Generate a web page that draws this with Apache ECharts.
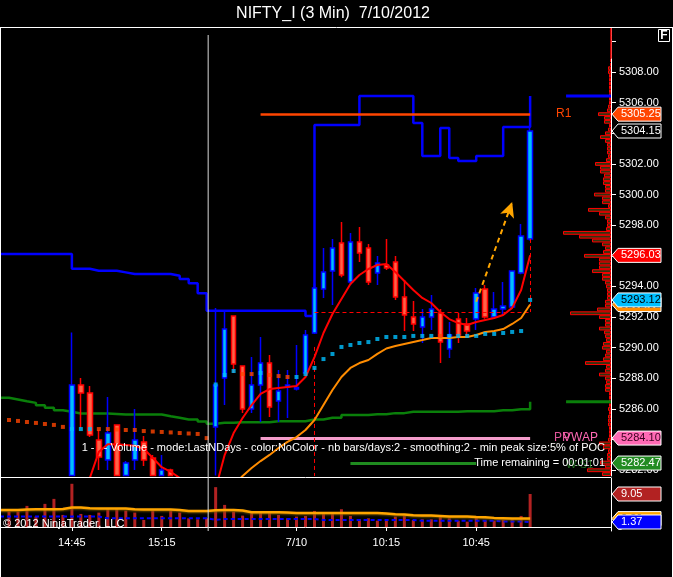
<!DOCTYPE html>
<html><head><meta charset="utf-8">
<script src="https://cdn.jsdelivr.net/npm/echarts@6/dist/echarts.min.js"></script>
<style>html,body{margin:0;padding:0;background:#000;overflow:hidden}#c{width:673px;height:577px}</style>
</head><body><div id="c"></div>
<script>
// ---------- categories (3-min bars) ----------
const times = ['14:21','14:24','14:27','14:30','14:33','14:36','14:39','14:42','14:45','14:48','14:51','14:54','14:57','15:00','15:03','15:06','15:09','15:12','15:15','15:18','15:21','15:24','15:27','15:30',
 '9:18','9:21','9:24','9:27','9:30','9:33','9:36','9:39','9:42','9:45','9:48','9:51','9:54','9:57','10:00','10:03','10:06','10:09','10:12','10:15','10:18','10:21','10:24','10:27','10:30','10:33','10:36','10:39','10:42','10:45','10:48','10:51','10:54','10:57','11:00','11:03',
 '11:06','11:09','11:12','11:15','11:18','11:21','11:24','11:27','11:30'];
const tickTimes = ['14:45','15:15','9:45','10:15','10:45'];
const tickLabels = ['14:45','15:15','7/10','10:15','10:45'];
const priceTicks = [5282,5284,5286,5288,5290,5292,5294,5296,5298,5300,5302,5304,5306,5308,5310];
const priceLabels = [5282,5284,5286,5288,5290,5292,5294,5296,5298,5300,5302,5304,5306,5308];

// ---------- OHLC (values below the visible range are held at the panel floor, 5281.65) ----------
const _ = null;
const open = [_,_,_,_,_,_,_,_,5281.65,5287.56,5287.04,5283.98,5282.67,5284.95,5281.65,5282.67,5283.85,5282.8,5281.65,5282.02,_,_,_,_,
 5284.82,5288.02,5292.07,5288.81,5286.0,5287.57,5289.0,5286.52,5287.43,5287.3,5288.35,5290.96,5293.83,5295.01,5296.84,5294.29,5296.9,5296.51,5294.88,5295.4,5295.6,5293.31,5292.0,5291.35,5292.0,5292.27,5289.92,5291.87,5291.55,5291.87,5293.83,5292.0,5292.53,5292.66,5294.88,5297.1];
const close = [_,_,_,_,_,_,_,_,5287.56,5287.04,5284.3,5282.87,5284.43,5281.65,5282.47,5283.97,5282.67,5281.65,5282.02,5281.65,_,_,_,_,
 5287.57,5291.22,5288.94,5286.0,5287.57,5289.0,5286.13,5287.17,5287.57,5287.4,5290.83,5293.9,5294.94,5296.51,5294.75,5296.9,5296.19,5294.29,5295.53,5295.2,5293.31,5292.14,5291.55,5292.0,5292.53,5290.37,5290.83,5290.83,5291.09,5293.57,5292.0,5292.53,5292.72,5295.01,5297.29,5304.15];
const low = [_,_,_,_,_,_,_,_,5281.65,5284.76,5284.17,5282.02,5282.02,5281.65,5281.65,5282.02,5282.28,5281.65,5281.65,5281.65,_,_,_,_,
 5281.65,5286.26,5288.35,5285.74,5285.74,5285.15,5285.48,5285.15,5285.41,5287.2,5288.3,5290.9,5293.25,5292.79,5294.6,5294.1,5295.6,5294.1,5294.1,5295.07,5293.12,5291.09,5291.09,5290.31,5291.16,5289.0,5289.33,5290.31,5290.64,5291.16,5291.9,5291.9,5292.14,5292.6,5294.8,5297.0];
const high = [_,_,_,_,_,_,_,_,5291.0,5288.02,5287.5,5284.63,5286.78,5284.95,5282.6,5286.0,5284.24,5283.0,5283.0,5282.1,_,_,_,_,
 5292.6,5292.46,5292.1,5288.85,5289.39,5290.7,5289.52,5288.55,5288.55,5290.18,5291.16,5294.2,5296.51,5297.1,5298.21,5297.49,5297.88,5296.77,5295.99,5297.1,5295.99,5294.42,5293.05,5292.53,5293.44,5292.53,5291.68,5292.27,5291.94,5293.9,5294.1,5293.64,5294.29,5295.01,5298.08,5304.4];

// ---------- indicators ----------
const fastAvg = [_,_,_,_,_,_,_,_,5280.0,5280.5,5281.5,5283.2,5283.7,5283.7,5283.65,5283.6,5283.4,5282.8,5282.2,5281.9,5281.5,5281.0,5280.7,5280.5,
 5280.8,5282.99,5284.43,5285.41,5286.26,5286.98,5287.3,5287.37,5287.43,5287.5,5288.09,5289.39,5290.96,5292.2,5293.18,5294.16,5294.75,5295.14,5295.4,5295.47,5294.94,5294.36,5293.77,5293.25,5292.92,5292.33,5291.87,5291.61,5291.48,5291.68,5291.81,5291.94,5292.14,5292.6,5293.77,5296.03];
const slowAvg = [_,_,_,_,_,_,_,_,_,_,_,_,_,_,_,_,_,_,_,_,_,_,_,_,
 5280.0,5280.5,5281.0,5281.63,5282.15,5282.6,5283.0,5283.45,5283.85,5284.17,5284.63,5285.28,5286.26,5287.24,5288.09,5288.68,5289.0,5289.2,5289.6,5289.95,5290.11,5290.24,5290.37,5290.5,5290.64,5290.64,5290.64,5290.7,5290.7,5290.83,5291.03,5291.09,5291.22,5291.55,5291.94,5292.82];
const vwapDots = [_,5285.28,5285.22,5285.15,5285.09,5285.02,5284.96,5284.83,5284.69,5284.69,5284.69,5284.69,5284.69,5284.66,5284.63,5284.63,5284.56,5284.53,5284.5,5284.47,5284.43,5284.4,5284.37,5284.10,
 5287.6,5288.22,5288.48,5288.28,5288.28,5288.35,5288.22,5288.15,5288.09,5288.09,5288.28,5288.68,5289.26,5289.59,5290.05,5290.18,5290.31,5290.37,5290.57,5290.7,5290.7,5290.7,5290.77,5290.77,5290.77,5290.77,5290.77,5290.77,5290.77,5290.77,5290.9,5290.9,5290.96,5291.03,5291.09,5293.12];
const vwapSide = [0,-1,-1,-1,-1,-1,-1,-1,1,1,1,-1,-1,-1,-1,-1,-1,-1,-1,-1,-1,-1,-1,-1,
 1,1,1,-1,-1,1,-1,-1,-1,1,1,1,1,1,1,1,1,1,1,1,1,1,1,1,1,-1,1,1,1,1,1,1,1,1,1,1];
const upperStep = [5296.12,5296.12,5296.12,5296.12,5296.12,5296.12,5296.12,5296.12,5295.16,5295.16,5295.03,5295.03,5295.03,5294.92,5294.81,5294.81,5294.81,5294.81,5294.81,5294.70,5294.49,5294.21,5293.55,5292.42,
 5292.42,5292.42,5292.42,5292.42,5292.42,5292.42,5292.42,5292.42,5292.42,5292.42,5292.07,5304.54,5304.54,5304.54,5304.54,5304.54,5306.44,5306.44,5306.44,5306.44,5306.44,5306.44,5304.67,5302.52,5302.52,5304.35,5302.39,5302.19,5302.19,5302.52,5302.52,5302.52,5304.41,5304.41,5304.41,5306.44];
const lowerStep = [5286.73,5286.62,5286.5,5286.4,5286.25,5286.08,5285.92,5285.82,5285.7,5285.7,5285.7,5285.7,5285.68,5285.64,5285.64,5285.64,5285.64,5285.64,5285.53,5285.43,5285.32,5285.32,5285.18,5285.04,
 5285.1,5285.1,5285.14,5285.14,5285.14,5285.14,5285.2,5285.2,5285.2,5285.2,5285.32,5285.32,5285.43,5285.43,5285.6,5285.6,5285.6,5285.66,5285.66,5285.73,5285.73,5285.82,5285.82,5285.82,5285.82,5285.82,5285.82,5285.86,5285.86,5285.86,5285.86,5285.92,5285.92,5285.99,5285.99,5286.47];

// ---------- pivot levels ----------
const levelNames = ['R1','PP','W-S1'];
const levelValues = [5305.25, 5284.10, 5282.47];
const levelFrom = ['9:33','9:33','10:03'];
const levelTo = ['11:03','11:03','10:45'];

// ---------- volume panel ----------
const volume = [_,4.22,4.22,5.79,2.85,6.34,7.71,3.31,11.85,3.58,3.31,3.95,5.14,5.14,4.5,3.95,1.93,4.5,3.03,4.5,3.95,2.39,2.11,2.39,
 10.93,6.06,4.22,3.12,3.95,3.95,3.95,3.31,2.39,2.85,3.03,4.41,3.76,3.95,4.87,3.03,2.11,2.39,1.74,2.11,2.85,3.03,1.93,2.11,2.11,2.85,2.39,1.74,1.47,2.85,1.74,1.74,1.93,2.11,3.03,9.05];
const volumeAvg = [4.68,4.68,4.68,4.78,4.87,4.87,4.87,4.95,5.33,5.33,5.15,5.05,5.05,5.05,5.05,4.87,4.78,4.78,4.78,4.78,4.68,4.41,4.41,4.41,
 4.6,4.68,4.68,4.5,4.04,4.04,4.04,4.04,3.95,3.86,3.86,3.86,3.86,3.86,3.86,3.86,3.86,3.86,3.86,3.7,3.49,3.4,3.2,3.12,3.12,3.0,2.85,2.85,2.85,2.75,2.66,2.5,2.4,2.3,2.3,2.3];
const volumeSlow = [2.85,2.85,2.85,2.85,2.85,2.85,2.85,2.85,2.85,2.85,2.85,2.85,2.4,2.4,2.4,2.4,2.4,2.4,2.4,2.4,2.4,2.4,2.4,2.4,
 1.95,2.2,2.2,2.2,2.2,2.2,2.2,2.2,2.2,2.2,2.2,2.2,1.95,1.95,1.95,1.95,1.95,1.95,1.95,1.95,1.95,1.95,1.95,1.7,1.7,1.7,1.7,1.7,1.7,1.7,1.7,1.7,1.5,1.5,1.5,1.37];

// ---------- volume profile (price levels every 0.25 from 5281.75) ----------
const profileLow = 5281.75, profileStep = 0.25;
const profileVol = [9,24,6,11,4,4,3,8,12,3,2,2,2,3,3,3,2,3,2,2,2,2,6,6,5,6,12,6,5,26,8,6,5,9,8,5,6,7,12,6,6,12,41,14,6,6,4,4,4,5,6,9,9,19,12,12,12,27,8,6,9,19,32,48,5,4,4,6,12,23,3,9,9,17,6,6,8,8,7,11,11,16,5,3,4,4,4,6,11,6,3,2,7,7,13,4,3,2,2,2,2,2,2,2,2,3,3,1,1,0,0,0,0,0,0,0,0];

// ---------- build ----------
const FONT = '"Liberation Sans", Arial, sans-serif';
const N = times.length;
const dash = a => a.map(v => v == null ? '-' : v);
const pad = a => dash(a.concat(Array(N - a.length).fill(null)));
const ohlc = times.map((t, i) => open[i] == null ? '-' : [open[i], close[i], low[i], high[i]]);
const profileLevels = profileVol.map((_, i) => (profileLow + i * profileStep).toFixed(2));
const lastI = close.length - 1;
const ix = t => times.indexOf(t);

const noLbl = {show: false};
const seg = (a, b, style) => [{coord: a, lineStyle: style, symbol: 'none'}, {coord: b, symbol: 'none'}];

const levelStyles = [
  {color: '#ff4500', width: 2.5, type: 'solid'},
  {color: '#f49ccb', width: 3, type: 'solid'},
  {color: '#1f8b1f', width: 3, type: 'solid'}
];
const redDash = {color: '#ff0000', width: 1, type: [4, 3]};

const option = {
  backgroundColor: '#000',
  animation: false,
  grid: [
    {left: -1, top: 28, width: 612, height: 448},
    {left: -1, top: 478, width: 612, height: 53},
    {left: 560, top: 28, width: 51, height: 448}
  ],
  xAxis: [
    {gridIndex: 0, type: 'category', data: times, boundaryGap: false, show: false},
    {gridIndex: 1, type: 'category', data: times, boundaryGap: false,
     axisLine: {lineStyle: {color: '#fff', width: 1}},
     axisTick: {show: true, interval: (i, v) => tickTimes.includes(v), length: 4, lineStyle: {color: '#fff'}},
     axisLabel: {interval: (i, v) => tickTimes.includes(v), formatter: v => tickLabels[tickTimes.indexOf(v)] || '', color: '#fff', fontSize: 11, fontFamily: FONT, margin: 6},
     splitLine: {show: false}},
    {gridIndex: 2, type: 'value', inverse: true, min: 0, max: 51, show: false}
  ],
  yAxis: [
    {gridIndex: 0, type: 'value', position: 'right', min: 5281.625, max: 5310.875, scale: true,
     axisLine: {show: true, lineStyle: {color: '#fff', width: 1}},
     axisTick: {show: true, length: 5, customValues: priceTicks, lineStyle: {color: '#fff'}},
     axisLabel: {customValues: priceLabels, formatter: v => Number(v).toFixed(2), color: '#fff', fontSize: 11, fontFamily: FONT, margin: 8},
     splitLine: {show: false}},
    {gridIndex: 1, type: 'value', position: 'right', min: -1.1, max: 13.44,
     axisLine: {show: true, lineStyle: {color: '#fff', width: 1}},
     axisTick: {show: false},
     axisLabel: {customValues: [0], formatter: '0', color: '#fff', fontSize: 11, fontFamily: FONT, margin: 6},
     splitLine: {show: false}},
    {gridIndex: 2, type: 'category', data: profileLevels, boundaryGap: true, show: false}
  ],
  series: [
    {type: 'bar', name: 'profile', xAxisIndex: 2, yAxisIndex: 2, data: profileVol, barCategoryGap: '0%', z: 1,
     itemStyle: {color: '#33330f', borderColor: '#ff0000', borderWidth: 1}, silent: true},
    {type: 'line', name: 'upper', xAxisIndex: 0, yAxisIndex: 0, data: dash(upperStep), step: 'end', symbol: 'none', z: 3,
     lineStyle: {color: '#0000ff', width: 2.5}},
    {type: 'line', name: 'lower', xAxisIndex: 0, yAxisIndex: 0, data: dash(lowerStep), step: 'end', symbol: 'none', z: 3,
     lineStyle: {color: '#0a7f0a', width: 2.5}},
    {type: 'candlestick', name: 'price', xAxisIndex: 0, yAxisIndex: 0, data: ohlc, barWidth: 5, clip: true, z: 4,
     itemStyle: {color: '#00bfff', color0: '#ff6347', borderColor: '#0000ff', borderColor0: '#ff0000', borderWidth: 1.5},
     markLine: {silent: true, symbol: 'none', label: noLbl, data: [
       seg([ix(levelFrom[0]), levelValues[0]], [ix(levelTo[0]), levelValues[0]], levelStyles[0]),
       seg([ix(levelFrom[1]), levelValues[1]], [ix(levelTo[1]), levelValues[1]], levelStyles[1]),
       seg([ix(levelFrom[2]), levelValues[2]], [ix(levelTo[2]), levelValues[2]], levelStyles[2]),
       seg([ix('9:51'), 5292.33], [ix('11:03'), 5292.33], redDash),
       seg([ix('9:51'), 5290.05], [ix('9:51'), 5281.625], redDash),
       seg([ix('11:03'), 5297.10], [ix('11:03'), 5292.33], redDash),
       [{coord: [ix('10:45'), 5293.0], symbol: 'none', lineStyle: {color: '#ffa500', width: 2, type: [5, 4]}},
        {coord: [ix('10:57'), 5299.51], symbol: 'arrow', symbolSize: [11, 15], itemStyle: {color: '#ffa500'}}]
     ]}},
    {type: 'line', name: 'slow', xAxisIndex: 0, yAxisIndex: 0, data: pad(slowAvg), symbol: 'none', z: 5,
     lineStyle: {color: '#ff8c00', width: 2}},
    {type: 'line', name: 'fast', xAxisIndex: 0, yAxisIndex: 0, data: pad(fastAvg), symbol: 'none', z: 5,
     lineStyle: {color: '#ff0000', width: 2}},
    {type: 'scatter', name: 'vwap', xAxisIndex: 0, yAxisIndex: 0, data: pad(vwapDots), symbol: 'rect', symbolSize: 4, z: 6,
     itemStyle: {color: p => vwapSide[p.dataIndex] > 0 ? '#00bfff' : '#ff4500'}},
    {type: 'bar', name: 'volume', xAxisIndex: 1, yAxisIndex: 1, data: pad(volume), barWidth: 3, z: 2,
     itemStyle: {color: '#b22222'}},
    {type: 'line', name: 'volSlow', xAxisIndex: 1, yAxisIndex: 1, data: dash(volumeSlow), symbol: 'none', z: 3,
     lineStyle: {color: '#0000ff', width: 2, type: [4, 3]}},
    {type: 'line', name: 'volAvg', xAxisIndex: 1, yAxisIndex: 1, data: dash(volumeAvg), symbol: 'none', z: 4,
     lineStyle: {color: '#ffa500', width: 2.5, shadowColor: 'rgba(120,90,0,0.8)', shadowBlur: 2, shadowOffsetY: 1}}
  ]
};

const chart = echarts.init(document.getElementById('c'));
chart.setOption(option);

// ---------- overlays: frame, texts, plot extensions, value flags ----------
const py = v => chart.convertToPixel({yAxisIndex: 0}, v);
const vy = v => chart.convertToPixel({yAxisIndex: 1}, v);
const px = t => chart.convertToPixel({xAxisIndex: 0}, t);
const sx = px('15:30') + 1;
const white = '#fff';
const txt = (x, y, text, fill, size, align, extra) => ({type: 'text', x, y, z: 200, silent: true,
  style: Object.assign({text, fill, font: size + 'px ' + FONT, align: align || 'left', verticalAlign: 'middle'}, extra || {})});
const ln = (x1, y1, x2, y2, c, w, z) => ({type: 'line', z: z || 150, silent: true, shape: {x1, y1, x2, y2}, style: {stroke: c, lineWidth: w || 1}});

const g = [
  txt(333, 14, 'NIFTY_I (3 Min)  7/10/2012', white, 16, 'center'),
  ln(0, 27.5, 673, 27.5, white),
  ln(0.5, 27, 0.5, 577, white),
  ln(672.5, 27, 672.5, 577, white),
  ln(0, 477.5, 611, 477.5, white),
  ln(sx + 0.5, 35, sx + 0.5, 531, '#d8d8d8'),
  // right-margin extensions of the two step plots
  ln(px('11:15'), py(upperStep[lastI]), px('11:30'), py(upperStep[lastI]), '#0000ff', 3, 120),
  ln(px('11:15'), py(lowerStep[lastI]), px('11:30'), py(lowerStep[lastI]), '#0a7f0a', 3, 120),
  {type: 'rect', z: 200, shape: {x: 658.5, y: 29.5, width: 11, height: 12}, style: {fill: 'none', stroke: white, lineWidth: 1}},
  txt(664, 36, 'F', white, 10, 'center', {fontWeight: 'bold'}),
  txt(556, py(levelValues[0]), levelNames[0], '#ff4500', 12),
  txt(566, py(levelValues[2]) + 2, levelNames[2], '#1d6e1d', 11),
  txt(554, py(levelValues[1]), levelNames[1], '#e0559a', 12),
  txt(563, py(levelValues[1]), 'VWAP', '#ff69b4', 12),
  txt(605, 448, '1 -   - Volume - mode:LastNDays - color:NoColor - nb bars/days:2 - smoothing:2 - min peak size:5% of POC', white, 11, 'right'),
  txt(605, 463, 'Time remaining = 00:01:01', white, 11, 'right'),
  txt(3, 524, '\u00a9 2012 NinjaTrader, LLC', white, 11, 'left')
];

const flags = [
  {v: levelValues[0], y: py(levelValues[0]), bg: '#ff4500', fg: '#fff'},
  {v: close[lastI], y: py(close[lastI]), bg: '#000', fg: '#fff'},
  {v: fastAvg[lastI], y: py(fastAvg[lastI]), bg: '#ff0000', fg: '#fff'},
  {v: slowAvg[lastI], y: py(slowAvg[lastI]), bg: '#ff8c00', fg: '#000'},
  {v: vwapDots[lastI], y: py(vwapDots[lastI]), bg: '#00bfff', fg: '#000'},
  {v: levelValues[1], y: py(levelValues[1]), bg: '#ff69b4', fg: '#3a0020'},
  {v: levelValues[2], y: py(levelValues[2]), bg: '#228b22', fg: '#fff'},
  {v: volumeAvg[lastI], y: vy(volumeAvg[lastI]), bg: '#ffa500', fg: '#000'},
  {v: volumeSlow[lastI], y: vy(volumeSlow[lastI]), bg: '#0000ff', fg: '#fff'},
  {v: volume[lastI], y: vy(volume[lastI]), bg: '#b22222', fg: '#fff'}
];
flags.forEach((f, k) => {
  const y = f.y;
  g.push({type: 'polygon', z: 300 + k * 2, silent: true,
    shape: {points: [[612, y], [618, y - 7], [661, y - 7], [661, y + 7], [618, y + 7]]},
    style: {fill: f.bg, stroke: '#fff', lineWidth: 1}});
  g.push({type: 'text', z: 301 + k * 2, x: 621, y: y, silent: true,
    style: {text: f.v.toFixed(2), fill: f.fg, font: '11px ' + FONT, align: 'left', verticalAlign: 'middle'}});
});
chart.setOption({graphic: g});
</script></body></html>
